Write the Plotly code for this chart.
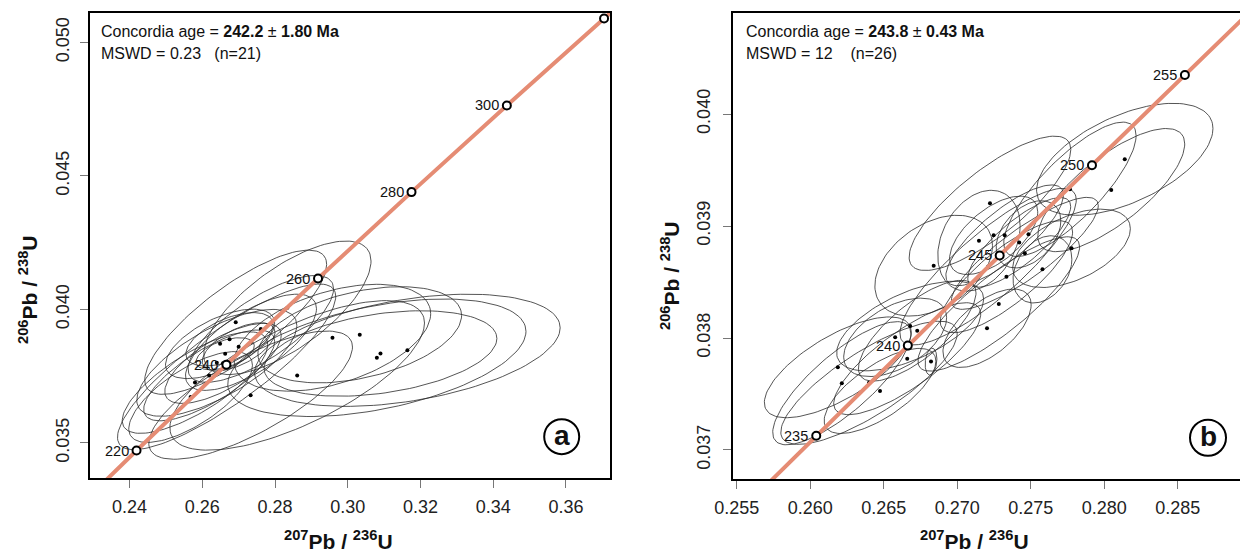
import numpy as np
import plotly.graph_objects as go

# ---------------- data ----------------
# Concordia reference points (age Ma, 207Pb/235U, 206Pb/238U)
conc_a_age = [200, 220, 240, 260, 280, 300, 320, 340]
conc_a_x = [0.21771, 0.24193, 0.26664, 0.29183, 0.31753, 0.34374, 0.37047, 0.39773]
conc_a_y = [0.031511, 0.034716, 0.037932, 0.041157, 0.044392, 0.047637, 0.050893, 0.054158]
conc_a_marked = [220, 240, 260, 280, 300, 320]
conc_a_labeled = [220, 240, 260, 280, 300]

conc_b_age = [230, 235, 240, 245, 250, 255, 260]
conc_b_x = [0.25422, 0.26041, 0.26664, 0.27289, 0.27917, 0.28549, 0.29183]
conc_b_y = [0.036323, 0.037127, 0.037932, 0.038737, 0.039543, 0.040349, 0.041157]
conc_b_marked = [235, 240, 245, 250, 255]
conc_b_labeled = [235, 240, 245, 250, 255]

# Panel a analyses: centre x, centre y, half-extent x, half-extent y, correlation
a_x = [0.2834, 0.2692, 0.2761, 0.2734, 0.2649, 0.2675, 0.2663, 0.2657, 0.2619, 0.2580,
       0.2568, 0.2733, 0.2667, 0.2640, 0.2700, 0.2861, 0.2958, 0.3033, 0.3090, 0.3080, 0.3164]
a_y = [0.04006, 0.03952, 0.03927, 0.03877, 0.03871, 0.03888, 0.03834, 0.03798, 0.03753, 0.03726,
       0.03672, 0.03679, 0.03785, 0.03800, 0.03860, 0.03753, 0.03894, 0.03905, 0.03835, 0.03819, 0.03847]
a_ex = [0.023, 0.025, 0.020, 0.018, 0.015, 0.012, 0.008, 0.016, 0.018, 0.020,
        0.017, 0.028, 0.030, 0.022, 0.010, 0.035, 0.027, 0.028, 0.032, 0.041, 0.042]
a_ey = [0.0025, 0.0027, 0.0020, 0.0018, 0.0013, 0.0010, 0.0006, 0.0015, 0.0017, 0.0019,
        0.0017, 0.0024, 0.0031, 0.0020, 0.0009, 0.0028, 0.0020, 0.0018, 0.0016, 0.0022, 0.0021]
a_rho = [0.70, 0.80, 0.75, 0.70, 0.60, 0.55, 0.50, 0.70, 0.75, 0.75,
         0.70, 0.75, 0.85, 0.70, 0.60, 0.70, 0.45, 0.40, 0.35, 0.45, 0.40]

# Panel b analyses
b_x = [0.28140, 0.28048, 0.27767, 0.27223, 0.27148, 0.27248, 0.27323, 0.27485, 0.27422, 0.27460,
       0.27778, 0.26840, 0.27210, 0.27335, 0.27580, 0.27283, 0.27203, 0.26680, 0.26728, 0.26578,
       0.26660, 0.26822, 0.26188, 0.26215, 0.26475, 0.26400]
b_y = [0.039596, 0.039321, 0.039328, 0.039203, 0.038869, 0.038917, 0.038917, 0.038926, 0.038854, 0.038756,
       0.038801, 0.038646, 0.038637, 0.038547, 0.038613, 0.038304, 0.038087, 0.038107, 0.038065, 0.038006,
       0.037815, 0.037789, 0.037738, 0.037596, 0.037527, 0.037600]
b_ex = [0.0060, 0.0050, 0.0045, 0.0055, 0.0028, 0.0030, 0.0040, 0.0022, 0.0035, 0.0050,
        0.0040, 0.0040, 0.0060, 0.0045, 0.0020, 0.0055, 0.0030, 0.0050, 0.0040, 0.0035,
        0.0050, 0.0004, 0.0050, 0.0047, 0.0038, 0.0060]
b_ey = [0.00050, 0.00055, 0.00060, 0.00060, 0.00045, 0.00035, 0.00045, 0.00030, 0.00040, 0.00050,
        0.00035, 0.00045, 0.00070, 0.00050, 0.00030, 0.00060, 0.00035, 0.00040, 0.00045, 0.00035,
        0.00050, 0.00012, 0.00045, 0.00055, 0.00038, 0.00055]
b_rho = [0.55, 0.75, 0.80, 0.80, 0.30, 0.60, 0.80, 0.40, 0.80, 0.85,
         0.50, 0.40, 0.85, 0.80, 0.30, 0.85, 0.60, 0.60, 0.75, 0.50,
         0.80, 0.20, 0.70, 0.80, 0.70, 0.80]

a_ticks_x = [0.24, 0.26, 0.28, 0.30, 0.32, 0.34, 0.36]
a_ticks_y = [0.035, 0.040, 0.045, 0.050]
b_ticks_x = [0.255, 0.260, 0.265, 0.270, 0.275, 0.280, 0.285]
b_ticks_y = [0.037, 0.038, 0.039, 0.040]

a_text1 = "Concordia age = <b>242.2</b> ± <b>1.80 Ma</b>"
a_text2 = "MSWD = 0.23   (n=21)"
b_text1 = "Concordia age = <b>243.8</b> ± <b>0.43 Ma</b>"
b_text2 = "MSWD = 12    (n=26)"

# ---------------- helpers ----------------
W, H = 1240, 555
FONT = "Liberation Sans, Arial, sans-serif"
CONC_COLOR = "#E58C74"


def ellipse_path(cx, cy, ex, ey, rho, n=120):
    xs, ys = [], []
    t = np.linspace(0, 2 * np.pi, n)
    for x0, y0, a, b, r in zip(cx, cy, ex, ey, rho):
        xs.extend((x0 + a * np.cos(t)).tolist())
        ys.extend((y0 + b * (r * np.cos(t) + np.sqrt(1 - r * r) * np.sin(t))).tolist())
        xs.append(None)
        ys.append(None)
    return xs, ys


fig = go.Figure()


def add_panel(xa, ya, cx, cy, ex, ey, rho, cage, cxs, cys, marked, labeled):
    ex_, ey_ = ellipse_path(cx, cy, ex, ey, rho)
    fig.add_trace(go.Scatter(x=ex_, y=ey_, mode="lines", xaxis=xa, yaxis=ya,
                             line=dict(color="#2a2a2a", width=0.8), hoverinfo="skip"))
    fig.add_trace(go.Scatter(x=cx, y=cy, mode="markers", xaxis=xa, yaxis=ya,
                             marker=dict(color="black", size=4), hoverinfo="skip"))
    fig.add_trace(go.Scatter(x=cxs, y=cys, mode="lines", xaxis=xa, yaxis=ya,
                             line=dict(color=CONC_COLOR, width=4), hoverinfo="skip"))
    mx = [x for a, x in zip(cage, cxs) if a in marked]
    my = [y for a, y in zip(cage, cys) if a in marked]
    fig.add_trace(go.Scatter(x=mx, y=my, mode="markers", xaxis=xa, yaxis=ya, cliponaxis=False,
                             marker=dict(symbol="circle", size=8, color="white",
                                         line=dict(color="black", width=2)),
                             hoverinfo="skip"))
    for a, x, y in zip(cage, cxs, cys):
        if a in labeled:
            fig.add_annotation(x=x, y=y, xref=xa, yref=ya, text=str(a), showarrow=False,
                               xanchor="right", yanchor="middle", xshift=-6,
                               font=dict(family=FONT, size=14.5, color="#111"))


add_panel("x", "y", a_x, a_y, a_ex, a_ey, a_rho, conc_a_age, conc_a_x, conc_a_y,
          conc_a_marked, conc_a_labeled)
add_panel("x2", "y2", b_x, b_y, b_ex, b_ey, b_rho, conc_b_age, conc_b_x, conc_b_y,
          conc_b_marked, conc_b_labeled)

axis_common = dict(showgrid=False, zeroline=False, ticks="outside", ticklen=8, tickwidth=1,
                   tickcolor="#777", showline=True, linecolor="black", linewidth=2,
                   automargin=False,
                   tickfont=dict(family=FONT, size=18, color="#222"))

fig.update_layout(
    width=W, height=H, margin=dict(l=0, r=0, t=0, b=0, autoexpand=False),
    paper_bgcolor="white", plot_bgcolor="white", showlegend=False,
    xaxis=dict(domain=[90.3 / W, 610 / W], range=[0.22922, 0.37210], tickvals=a_ticks_x,
               tickformat=".2f", mirror=True, anchor="y", ticklabelstandoff=3, **axis_common),
    yaxis=dict(domain=[1 - 478.3 / H, 1 - 13 / H], range=[0.033677, 0.051098], tickvals=a_ticks_y,
               tickformat=".3f", mirror=True, anchor="x", tickangle=-90, ticklabelstandoff=4,
               **axis_common),
    xaxis2=dict(domain=[732.6 / W, 1.0], range=[0.25472, 0.28924], tickvals=b_ticks_x,
                tickformat=".3f", mirror=True, anchor="y2", ticklabelstandoff=3, **axis_common),
    yaxis2=dict(domain=[1 - 479.3 / H, 1 - 13.3 / H], range=[0.036738, 0.04090], tickvals=b_ticks_y,
                tickformat=".3f", mirror=False, anchor="x2", tickangle=-90, ticklabelstandoff=5,
                **axis_common),
)

# Text blocks inside panels
for xa, ya, xf, t1, t2 in [("x domain", "y domain", 0.017, a_text1, a_text2),
                           ("x2 domain", "y2 domain", 0.023, b_text1, b_text2)]:
    fig.add_annotation(x=xf, y=0.96, xref=xa, yref=ya, text=t1, showarrow=False,
                       xanchor="left", yanchor="middle", font=dict(family=FONT, size=16, color="#111"))
    fig.add_annotation(x=xf, y=0.913, xref=xa, yref=ya, text=t2, showarrow=False,
                       xanchor="left", yanchor="middle", font=dict(family=FONT, size=16, color="#111"))

# Axis titles
xt = "<b><sup>207</sup>Pb / <sup>236</sup>U</b>"
yt = "<b><sup>206</sup>Pb / <sup>238</sup>U</b>"
title_font = dict(family=FONT, size=21, color="#111")
for (px, py, txt, ang) in [(338.6, 540, xt, 0), (974.4, 540, xt, 0), (28, 290, yt, -90), (670, 276, yt, -90)]:
    fig.add_annotation(x=px / W, y=1 - py / H, xref="paper", yref="paper", text=txt,
                       showarrow=False, xanchor="center", yanchor="middle", textangle=ang,
                       font=title_font)

# Panel letters in circles
for cxp, cyp, r, letter in [(561.7, 436.7, 17.5, "a"), (1208, 437.8, 18, "b")]:
    fig.add_shape(type="circle", xref="paper", yref="paper",
                  x0=(cxp - r) / W, x1=(cxp + r) / W, y0=1 - (cyp + r) / H, y1=1 - (cyp - r) / H,
                  line=dict(color="black", width=2))
    fig.add_annotation(x=cxp / W, y=1 - (cyp - 1) / H, xref="paper", yref="paper",
                       text=f"<b>{letter}</b>", showarrow=False, xanchor="center", yanchor="middle",
                       font=dict(family=FONT, size=28, color="#111"))

fig.write_html("out.html", config={"displayModeBar": False},
               post_script="document.body.style.margin='0px';")
